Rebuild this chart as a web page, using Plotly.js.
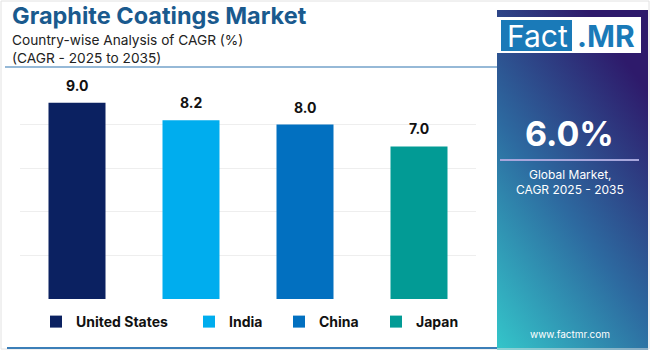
<!DOCTYPE html>
<html>
<head>
<meta charset="utf-8">
<script src="https://cdn.plot.ly/plotly-3.0.1.min.js"></script>
<style>html,body{margin:0;padding:0;background:#fff;}#chart{width:650px;height:350px;}</style>
</head>
<body>
<div id="chart"></div>
<script>
// ---- data ----
const countries = ["United States", "India", "China", "Japan"];
const cagr = [9.0, 8.2, 8.0, 7.0];
const barColors = ["#0b2161", "#00adee", "#0270c0", "#029b95"];
const legendWidths = [108, 45, 52, 50];
const yTicks = [0, 2, 4, 6, 8, 10];
const titleText = "Graphite Coatings Market";
const subtitleLines = ["Country-wise Analysis of CAGR (%)", "(CAGR - 2025 to 2035)"];
const globalCagr = "6.0%";
const globalLabel = ["Global Market,", "CAGR 2025 - 2035"];
const website = "www.factmr.com";

// ---- geometry helpers (pixel -> paper) ----
const W = 650, H = 350;
const L = 20, R = 476, T = 81, B = 299;
const px = x => (x - L) / (R - L);
const py = y => (B - y) / (B - T);

const FONT = "Inter, 'Open Sans', sans-serif";

const traces = countries.map((c, i) => ({
  type: "bar",
  name: c,
  x: [c],
  y: [cagr[i]],
  width: 0.5,
  marker: { color: barColors[i] },
  legendwidth: legendWidths[i],
  hoverinfo: "skip"
}));

const annotations = countries.map((c, i) => ({
  x: c, y: cagr[i], xref: "x", yref: "y",
  text: cagr[i].toFixed(1), showarrow: false,
  yanchor: "bottom", yshift: 7,
  font: { family: FONT, size: 14, color: "#111", weight: 700 }
}));

function pa(text, x, y, opts) {
  return Object.assign({
    text, x: px(x), y: py(y), xref: "paper", yref: "paper",
    showarrow: false, xanchor: "center", yanchor: "middle"
  }, opts);
}

annotations.push(
  pa("<b>" + titleText + "</b>", 10, 16, { xanchor: "left", font: { family: FONT, size: 23.5, color: "#1a5a8e" } }),
  pa(subtitleLines[0], 10, 40, { xanchor: "left", font: { family: FONT, size: 13.7, color: "#222" } }),
  pa(subtitleLines[1], 10, 58, { xanchor: "left", font: { family: FONT, size: 13.7, color: "#222" } }),
  pa("Fact", 537, 36, { font: { family: FONT, size: 30, color: "#ffffff" } }),
  pa("<b>.MR</b>", 606, 36, { font: { family: FONT, size: 30, color: "#1a7ab8" } }),
  pa("<b>" + globalCagr + "</b>", 569, 133, { font: { family: FONT, size: 34, color: "#ffffff" } }),
  pa(globalLabel[0], 570, 174, { font: { family: FONT, size: 12, color: "#ffffff" } }),
  pa(globalLabel[1], 570, 189, { font: { family: FONT, size: 12, color: "#ffffff" } }),
  pa(website, 570, 334, { font: { family: FONT, size: 10, color: "#ffffff" } })
);

const gradSvg = '<svg xmlns="http://www.w3.org/2000/svg" width="150" height="340" viewBox="0 0 150 340" preserveAspectRatio="none">' +
  '<defs><linearGradient id="g" x1="0" y1="1" x2="0.6" y2="0">' +
  '<stop offset="0" stop-color="#34c6ca"/><stop offset="0.5" stop-color="#2d6aa0"/><stop offset="1" stop-color="#2e1a6b"/>' +
  '</linearGradient></defs><rect width="150" height="340" fill="url(#g)"/></svg>';

const images = [{
  source: "data:image/svg+xml;base64," + btoa(gradSvg),
  xref: "paper", yref: "paper",
  x: px(497), y: py(10), sizex: px(648) - px(497), sizey: py(10) - py(350),
  xanchor: "left", yanchor: "top", sizing: "stretch", layer: "below"
}];

function rectPx(x0, y0, x1, y1, o) {
  return Object.assign({ type: "rect", xref: "paper", yref: "paper", x0: px(x0), x1: px(x1), y0: py(y0), y1: py(y1) }, o);
}
function linePx(x0, y0, x1, y1, o) {
  return Object.assign({ type: "line", xref: "paper", yref: "paper", x0: px(x0), x1: px(x1), y0: py(y0), y1: py(y1) }, o);
}

const shapes = [
  rectPx(1, 1, 649, 349, { line: { color: "#e2e2e2", width: 1 }, layer: "below" }),
  linePx(5, 67, 497, 67, { line: { color: "#2f74b0", width: 1.2 } }),
  linePx(7, 348, 497, 348, { line: { color: "#3c7fb8", width: 2 } }),
  rectPx(497, 17, 641, 53, { fillcolor: "#ffffff", line: { width: 0 } }),
  rectPx(501, 20, 572, 51, { fillcolor: "#1a7ab8", line: { width: 0 } }),
  linePx(500, 160, 639, 160, { line: { color: "#a7a6dc", width: 2 } })
];

const layout = {
  width: W, height: H,
  margin: { l: L, r: W - R, t: T, b: H - B, pad: 0, autoexpand: false },
  paper_bgcolor: "#ffffff", plot_bgcolor: "rgba(0,0,0,0)",
  barmode: "overlay",
  showlegend: true,
  legend: {
    orientation: "h", xref: "container", yref: "container",
    x: 36 / W, y: 1 - 322 / H, xanchor: "left", yanchor: "middle",
    font: { family: FONT, size: 14, color: "#111", weight: 700 },
    bgcolor: "rgba(0,0,0,0)", itemwidth: 30
  },
  xaxis: { type: "category", categoryarray: countries, range: [-0.5, 3.5], showticklabels: false, showgrid: false, zeroline: false, showline: false, ticks: "" , fixedrange: true},
  yaxis: { range: [0, 10], tickvals: yTicks, showticklabels: false, showgrid: true, gridcolor: "#eeeeee", gridwidth: 1, zeroline: false, showline: false, ticks: "", fixedrange: true },
  annotations, shapes, images,
  font: { family: FONT }
};

Plotly.newPlot("chart", traces, layout, { displayModeBar: false, staticPlot: true });
</script>
</body>
</html>
